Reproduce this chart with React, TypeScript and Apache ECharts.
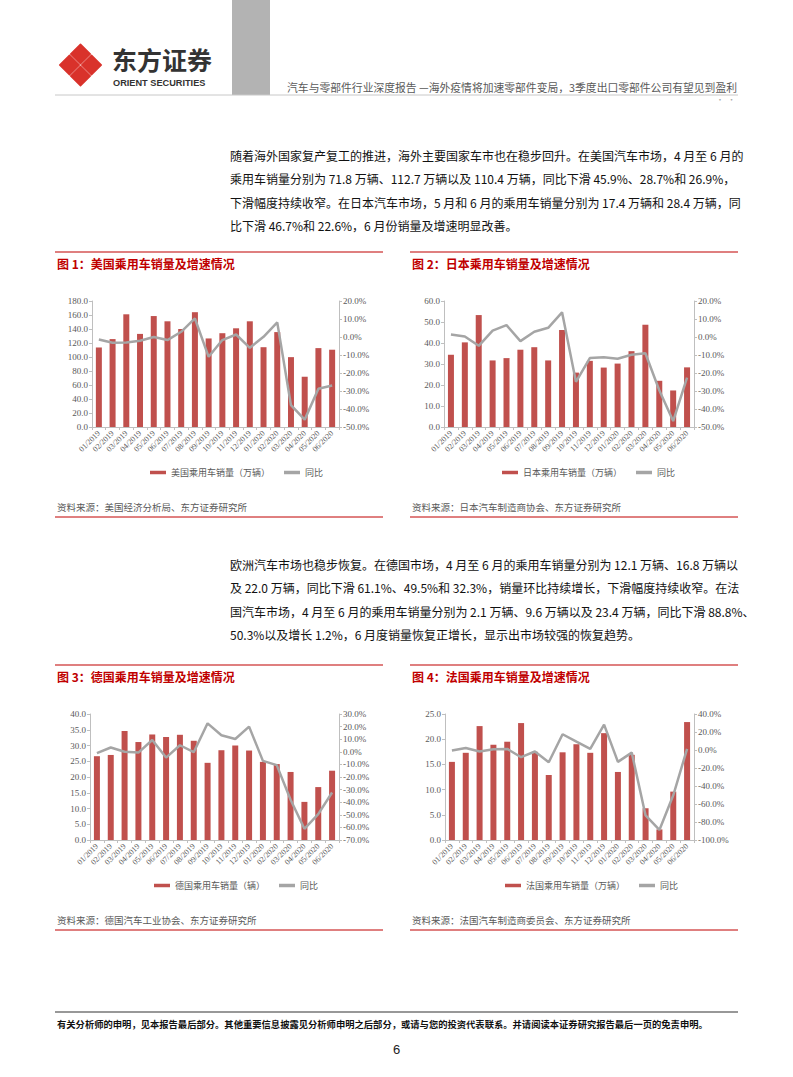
import React, { useEffect, useRef } from "react";
import * as echarts from "echarts";

const months = ["01/2019","02/2019","03/2019","04/2019","05/2019","06/2019","07/2019","08/2019","09/2019","10/2019","11/2019","12/2019","01/2020","02/2020","03/2020","04/2020","05/2020","06/2020"];

const usSales = [113.6,125.6,161,133,158.5,151,140,164,126.5,134,141,151,114,135.6,99.8,71.8,112.7,110.4];
const usYoy = [-1.4,-3.2,-3.0,-2.1,0,-1.7,2.9,10.3,-11,-1.7,1.4,-6,0.1,8.1,-37.9,-45.9,-28.7,-26.9];

const jpSales = [34.4,40.3,53.3,31.7,32.8,36.8,38,31.7,46.2,25.9,31.5,28.3,30.2,36.1,48.7,22,17.4,28.4];
const jpYoy = [1.4,0.3,-4.9,3.5,6.6,-2.3,2.9,5.1,13.7,-24.9,-11.7,-11.2,-12.1,-9.9,-9,-29.6,-46.7,-22.6];

const deSales = [26.6,27,34.6,31.1,33.5,32.7,33.4,31.5,24.5,28.5,30,28.4,24.8,24.1,21.6,12.1,16.8,22.0];
const deYoy = [-1.1,3.4,0,-0.6,9.4,-4.6,5.2,-0.3,22.6,13.1,10.2,20,-7.2,-10.6,-38,-61.1,-49.5,-32.3];

const frSales = [15.5,17.3,22.6,18.9,19.5,23.2,17.5,12.9,17.4,19,17.3,21.2,13.5,16.9,6.3,2.1,9.6,23.4];
const frYoy = [-0.6,2.3,-1.7,0.8,1.2,-8,-1.7,-13.6,17.5,9.3,1.2,28.2,-13.2,-2.9,-72.7,-88.8,-50.3,1.2];

const barNames = ["美国乘用车销量（万辆）", "日本乘用车销量（万辆）", "德国乘用车销量（辆）", "法国乘用车销量（万辆）"];
const yoyName = "同比";
const titles = ["图 1：美国乘用车销量及增速情况", "图 2：日本乘用车销量及增速情况", "图 3：德国乘用车销量及增速情况", "图 4：法国乘用车销量及增速情况"];
const sources = ["资料来源：美国经济分析局、东方证券研究所", "资料来源：日本汽车制造商协会、东方证券研究所", "资料来源：德国汽车工业协会、东方证券研究所", "资料来源：法国汽车制造商委员会、东方证券研究所"];
const leftAxes = [[0, 180, 20], [0, 60, 10], [0, 40, 5], [0, 25, 5]];
const rightAxes = [[-50, 20, 10], [-50, 20, 10], [-70, 30, 10], [-100, 40, 20]];

const para1 = [
  "随着海外国家复产复工的推进，海外主要国家车市也在稳步回升。在美国汽车市场，4 月至 6 月的",
  "乘用车销量分别为 71.8 万辆、112.7 万辆以及 110.4 万辆，同比下滑 45.9%、28.7%和 26.9%，",
  "下滑幅度持续收窄。在日本汽车市场，5 月和 6 月的乘用车销量分别为 17.4 万辆和 28.4 万辆，同",
  "比下滑 46.7%和 22.6%，6 月份销量及增速明显改善。",
];
const para2 = [
  "欧洲汽车市场也稳步恢复。在德国市场，4 月至 6 月的乘用车销量分别为 12.1 万辆、16.8 万辆以",
  "及 22.0 万辆，同比下滑 61.1%、49.5%和 32.3%，销量环比持续增长，下滑幅度持续收窄。在法",
  "国汽车市场，4 月至 6 月的乘用车销量分别为 2.1 万辆、9.6 万辆以及 23.4 万辆，同比下滑 88.8%、",
  "50.3%以及增长 1.2%，6 月度销量恢复正增长，显示出市场较强的恢复趋势。",
];
const headerTitle = "汽车与零部件行业深度报告 —海外疫情将加速零部件变局，3季度出口零部件公司有望见到盈利";
const footerText = "有关分析师的申明，见本报告最后部分。其他重要信息披露见分析师申明之后部分，或请与您的投资代表联系。并请阅读本证券研究报告最后一页的免责申明。";

const CJK = '"Noto Sans CJK SC", "Liberation Sans", sans-serif';
const AXF = '"Liberation Serif", "Noto Sans CJK SC", serif';
const RED = "#C00000";
const BAR = "#C0504D";
const GRAYLINE = "#A5A5A5";
const AXIS = "#BFBFBF";
const LABEL = "#595959";

const grids = [
  { left: 92, top: 301, width: 247, height: 126 },
  { left: 444, top: 301, width: 250, height: 126 },
  { left: 90, top: 714, width: 249, height: 126 },
  { left: 445, top: 714, width: 249, height: 126 },
];
const legendPos = [
  { left: 145, top: 463 },
  { left: 497, top: 463 },
  { left: 149, top: 876 },
  { left: 500, top: 876 },
];
const panelX = [55, 410, 55, 410];
const panelTop = [252, 252, 665, 665];
const panelBottom = [517, 517, 930, 930];

export default function App() {
  const ref = useRef<HTMLDivElement>(null);
  useEffect(() => {
    if (!ref.current) return;
    const chart = echarts.init(ref.current, undefined, { renderer: "svg" });
    const sales = [usSales, jpSales, deSales, frSales];
    const yoys = [usYoy, jpYoy, deYoy, frYoy];

    const xAxis: any[] = [];
    const yAxis: any[] = [];
    const series: any[] = [];
    const legend: any[] = [];
    for (let i = 0; i < 4; i++) {
      xAxis.push({
        type: "category", gridIndex: i, data: months,
        axisLine: { lineStyle: { color: AXIS, width: 1 } },
        axisTick: { show: true, length: 3, lineStyle: { color: AXIS } },
        axisLabel: { rotate: 45, fontSize: 8, color: LABEL, fontFamily: AXF, margin: 5, interval: 0 },
      });
      const [lmin, lmax, lint] = leftAxes[i];
      const [rmin, rmax, rint] = rightAxes[i];
      yAxis.push({
        type: "value", gridIndex: i, min: lmin, max: lmax, interval: lint, position: "left",
        axisLine: { show: true, lineStyle: { color: AXIS } },
        axisTick: { show: true, length: 3, lineStyle: { color: AXIS } },
        splitLine: { show: false },
        axisLabel: { fontSize: 9, color: LABEL, fontFamily: AXF, margin: 4, formatter: (v: number) => v.toFixed(1) },
      });
      yAxis.push({
        type: "value", gridIndex: i, min: rmin, max: rmax, interval: rint, position: "right",
        axisLine: { show: true, lineStyle: { color: AXIS } },
        axisTick: { show: true, length: 3, lineStyle: { color: AXIS } },
        splitLine: { show: false },
        axisLabel: { fontSize: 9, color: LABEL, fontFamily: AXF, margin: 4, formatter: (v: number) => v.toFixed(1) + "%" },
      });
      series.push({
        type: "bar", name: barNames[i], xAxisIndex: i, yAxisIndex: i * 2, data: sales[i],
        barWidth: 6, itemStyle: { color: BAR },
      });
      series.push({
        type: "line", name: yoyName, xAxisIndex: i, yAxisIndex: i * 2 + 1, data: yoys[i],
        symbol: "none", lineStyle: { color: GRAYLINE, width: 2.5 }, itemStyle: { color: GRAYLINE },
      });
      legend.push({
        ...legendPos[i], orient: "horizontal", itemWidth: 16, itemHeight: 3.5, itemGap: 14,
        data: [{ name: barNames[i], icon: "rect", itemStyle: { color: BAR } }, { name: yoyName, icon: "rect", itemStyle: { color: GRAYLINE } }],
        textStyle: { fontSize: 9, color: LABEL, fontFamily: CJK },
        selectedMode: false,
      });
    }

    const graphic: any[] = [];
    // header
    graphic.push({ type: "rect", shape: { x: 232, y: 0, width: 38, height: 95 }, style: { fill: "#B3B3B3" } });
    graphic.push({ type: "line", shape: { x1: 55, y1: 95, x2: 738, y2: 95 }, style: { stroke: "#C8C8C8", lineWidth: 1 } });
    const cx = 80.5, cy = 65, off = 11, hd = 9.8;
    [[0, -off], [0, off], [-off, 0], [off, 0]].forEach(([dx, dy]) => {
      const x0 = cx + dx, y0 = cy + dy;
      graphic.push({ type: "polygon", shape: { points: [[x0, y0 - hd], [x0 + hd, y0], [x0, y0 + hd], [x0 - hd, y0]] }, style: { fill: "#D9322B", stroke: "#D9322B", lineWidth: 1.5, lineJoin: "round" } });
    });
    graphic.push({ type: "text", x: 112, y: 59, style: { text: "东方证券", fill: "#333333", font: `bold 25px ${CJK}`, verticalAlign: "middle" } });
    graphic.push({ type: "text", x: 113, y: 82.5, style: { text: "ORIENT SECURITIES", font: 'bold 9.2px "Liberation Sans", Arial, sans-serif', fill: "#333333", verticalAlign: "middle" } });
    graphic.push({ type: "text", x: 737, y: 87, style: { text: headerTitle, font: `10.8px ${CJK}`, fill: "#595959", align: "right", verticalAlign: "middle" } });
    graphic.push({ type: "text", x: 716, y: 99, style: { text: "·  ·", font: `8px ${CJK}`, fill: "#AAAAAA", verticalAlign: "middle" } });

    // paragraphs
    const p1y = [155, 178.5, 202, 225.5];
    para1.forEach((t, k) => graphic.push({ type: "text", x: 230, y: p1y[k], style: { text: t, font: `12px ${CJK}`, fill: "#111111", verticalAlign: "middle" } }));
    const p2y = [564, 587.5, 611, 634.5];
    para2.forEach((t, k) => graphic.push({ type: "text", x: 230, y: p2y[k], style: { text: t, font: `12px ${CJK}`, fill: "#111111", verticalAlign: "middle" } }));

    // panels
    for (let i = 0; i < 4; i++) {
      const x = panelX[i];
      graphic.push({ type: "line", shape: { x1: x, y1: panelTop[i], x2: x + 328, y2: panelTop[i] }, style: { stroke: RED, lineWidth: 1.2 } });
      graphic.push({ type: "text", x: x + 2, y: panelTop[i] + 11, style: { text: titles[i], font: `bold 12px ${CJK}`, fill: RED, verticalAlign: "middle" } });
      graphic.push({ type: "text", x: x + 2, y: panelBottom[i] - 10, style: { text: sources[i], font: `9.5px ${CJK}`, fill: "#595959", verticalAlign: "middle" } });
      graphic.push({ type: "line", shape: { x1: x, y1: panelBottom[i], x2: x + 328, y2: panelBottom[i] }, style: { stroke: RED, lineWidth: 1 } });
    }

    // footer
    graphic.push({ type: "line", shape: { x1: 55, y1: 1012, x2: 738, y2: 1012 }, style: { stroke: "#333333", lineWidth: 1.2 } });
    graphic.push({ type: "text", x: 57, y: 1024, style: { text: footerText, font: `bold 9.3px ${CJK}`, fill: "#111111", verticalAlign: "middle" } });
    graphic.push({ type: "text", x: 396.5, y: 1049, style: { text: "6", font: `13px "Liberation Sans", Arial, sans-serif`, fill: "#222222", align: "center", verticalAlign: "middle" } });

    chart.setOption({
      animation: false,
      backgroundColor: "#ffffff",
      grid: grids,
      xAxis, yAxis, series, legend, graphic,
    });
    return () => chart.dispose();
  }, []);
  return <div ref={ref} style={{ position: "absolute", left: 0, top: 0, width: 793, height: 1077 }} />;
}
